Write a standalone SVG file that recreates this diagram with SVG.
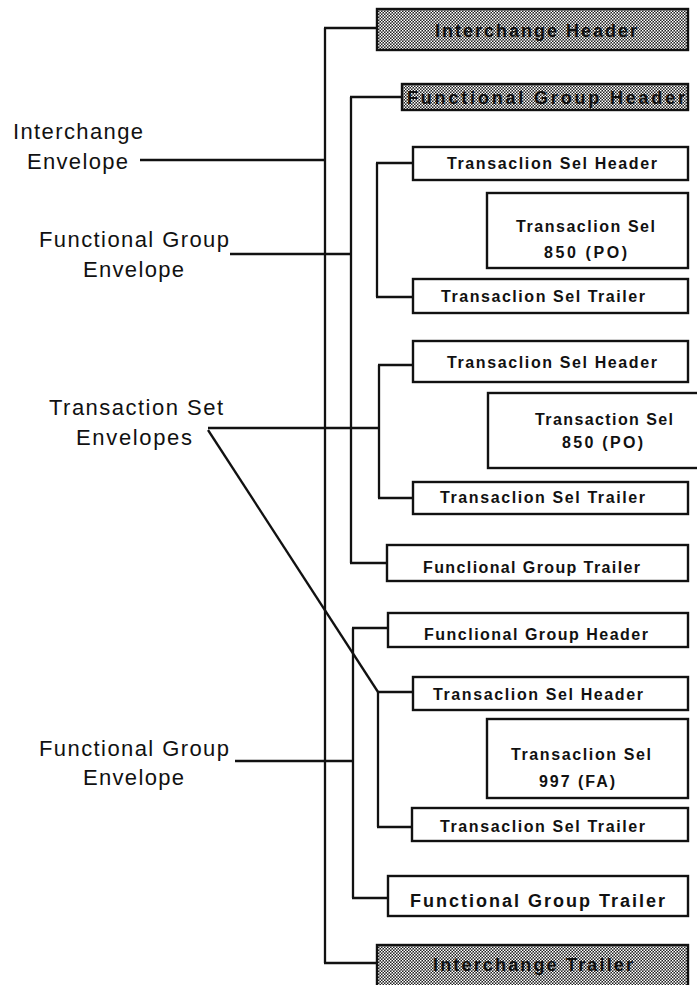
<svg xmlns="http://www.w3.org/2000/svg" width="697" height="985" viewBox="0 0 697 985">
<defs>
<pattern id="dots" width="3" height="3" patternUnits="userSpaceOnUse">
<rect width="3" height="3" fill="#222"/>
<rect x="0" y="0" width="1.5" height="1.5" fill="#fff"/>
<rect x="1.5" y="1.5" width="1.5" height="1.5" fill="#fff"/>
</pattern>
</defs>
<style>
.box{fill:#fff;stroke:#111;stroke-width:2.4}
.hbox{fill:url(#dots);stroke:#111;stroke-width:2.4}
.ln{stroke:#111;stroke-width:2.3;fill:none}
.bt{font-family:"Liberation Sans",Arial,sans-serif;font-size:16px;font-weight:bold;fill:#111}
.ht{font-family:"Liberation Sans",Arial,sans-serif;font-size:18px;font-weight:bold;fill:#111}
.lb{font-family:"Liberation Sans",Arial,sans-serif;font-size:22px;fill:#111}
</style>
<rect width="697" height="985" fill="#fff"/>

<g id="connectors">
<line class="ln" x1="325" y1="28" x2="325" y2="963"/>
<line class="ln" x1="351" y1="97" x2="351" y2="563"/>
<line class="ln" x1="377" y1="163" x2="377" y2="297"/>
<line class="ln" x1="379" y1="365" x2="379" y2="498"/>
<line class="ln" x1="353" y1="628" x2="353" y2="898"/>
<line class="ln" x1="378" y1="692" x2="378" y2="827"/>
<line class="ln" x1="324" y1="28" x2="377" y2="28"/>
<line class="ln" x1="350" y1="97" x2="402" y2="97"/>
<line class="ln" x1="376" y1="163" x2="413" y2="163"/>
<line class="ln" x1="376" y1="297" x2="413" y2="297"/>
<line class="ln" x1="378" y1="365" x2="413" y2="365"/>
<line class="ln" x1="378" y1="498" x2="413" y2="498"/>
<line class="ln" x1="350" y1="563" x2="387" y2="563"/>
<line class="ln" x1="352" y1="628" x2="388" y2="628"/>
<line class="ln" x1="377" y1="692" x2="413" y2="692"/>
<line class="ln" x1="377" y1="827" x2="412" y2="827"/>
<line class="ln" x1="352" y1="898" x2="388" y2="898"/>
<line class="ln" x1="324" y1="963" x2="377" y2="963"/>
<line class="ln" x1="140" y1="160" x2="325" y2="160"/>
<line class="ln" x1="230" y1="254" x2="351" y2="254"/>
<line class="ln" x1="208" y1="428" x2="379" y2="428"/>
<line class="ln" x1="235" y1="761" x2="353" y2="761"/>
<line class="ln" x1="208" y1="430" x2="378" y2="692"/>
</g>

<g id="label-interchange-envelope">
<text class="lb" x="13" y="139" textLength="130">Interchange</text>
<text class="lb" x="27" y="169" textLength="101">Envelope</text>
</g>
<g id="label-functional-group-envelope-1">
<text class="lb" x="39" y="247" textLength="190">Functional Group</text>
<text class="lb" x="83" y="277" textLength="101">Envelope</text>
</g>
<g id="label-transaction-set-envelopes">
<text class="lb" x="49" y="415" textLength="174">Transaction Set</text>
<text class="lb" x="76" y="445" textLength="116">Envelopes</text>
</g>
<g id="label-functional-group-envelope-2">
<text class="lb" x="39" y="756" textLength="190">Functional Group</text>
<text class="lb" x="83" y="785" textLength="101">Envelope</text>
</g>

<g id="interchange-header">
<rect class="hbox" x="377" y="9" width="311" height="41"/>
<text class="ht" x="435" y="37" textLength="202">Interchange Header</text>
</g>
<g id="functional-group-header-1">
<rect class="hbox" x="402" y="84" width="286" height="26"/>
<text class="ht" x="407" y="104" textLength="278">Functional Group Header</text>
</g>
<g id="ts-header-1">
<rect class="box" x="413" y="147" width="275" height="33"/>
<text class="bt" x="447" y="169" textLength="210">Transaclion Sel Header</text>
</g>
<g id="ts-body-1">
<rect class="box" x="487" y="193" width="201" height="75"/>
<text class="bt" x="516" y="232" textLength="139">Transaclion Sel</text>
<text class="bt" x="544" y="258" textLength="83">850 (PO)</text>
</g>
<g id="ts-trailer-1">
<rect class="box" x="413" y="279" width="275" height="34"/>
<text class="bt" x="441" y="302" textLength="204">Transaclion Sel Trailer</text>
</g>
<g id="ts-header-2">
<rect class="box" x="413" y="341" width="275" height="41"/>
<text class="bt" x="447" y="368" textLength="210">Transaclion Sel Header</text>
</g>
<g id="ts-body-2">
<rect class="box" x="488" y="393" width="230" height="75"/>
<text class="bt" x="535" y="425" textLength="138">Transaction Sel</text>
<text class="bt" x="562" y="448" textLength="81">850 (PO)</text>
</g>
<g id="ts-trailer-2">
<rect class="box" x="413" y="482" width="275" height="32"/>
<text class="bt" x="440" y="503" textLength="205">Transaclion Sel Trailer</text>
</g>
<g id="functional-group-trailer-1">
<rect class="box" x="387" y="545" width="301" height="36"/>
<text class="bt" x="423" y="573" textLength="217">Funclional Group Trailer</text>
</g>
<g id="functional-group-header-2">
<rect class="box" x="388" y="613" width="300" height="34"/>
<text class="bt" x="424" y="640" textLength="224">Funclional Group Header</text>
</g>
<g id="ts-header-3">
<rect class="box" x="413" y="677" width="275" height="33"/>
<text class="bt" x="433" y="700" textLength="210">Transaclion Sel Header</text>
</g>
<g id="ts-body-3">
<rect class="box" x="487" y="719" width="201" height="79"/>
<text class="bt" x="511" y="760" textLength="140">Transaclion Sel</text>
<text class="bt" x="539" y="787" textLength="76">997 (FA)</text>
</g>
<g id="ts-trailer-3">
<rect class="box" x="412" y="808" width="276" height="33"/>
<text class="bt" x="440" y="832" textLength="205">Transaclion Sel Trailer</text>
</g>
<g id="functional-group-trailer-2">
<rect class="box" x="388" y="876" width="300" height="40"/>
<text class="ht" x="410" y="907" textLength="255">Functional Group Trailer</text>
</g>
<g id="interchange-trailer">
<rect class="hbox" x="377" y="945" width="311" height="45"/>
<text class="ht" x="433" y="971" textLength="200">Interchange Trailer</text>
</g>
</svg>
